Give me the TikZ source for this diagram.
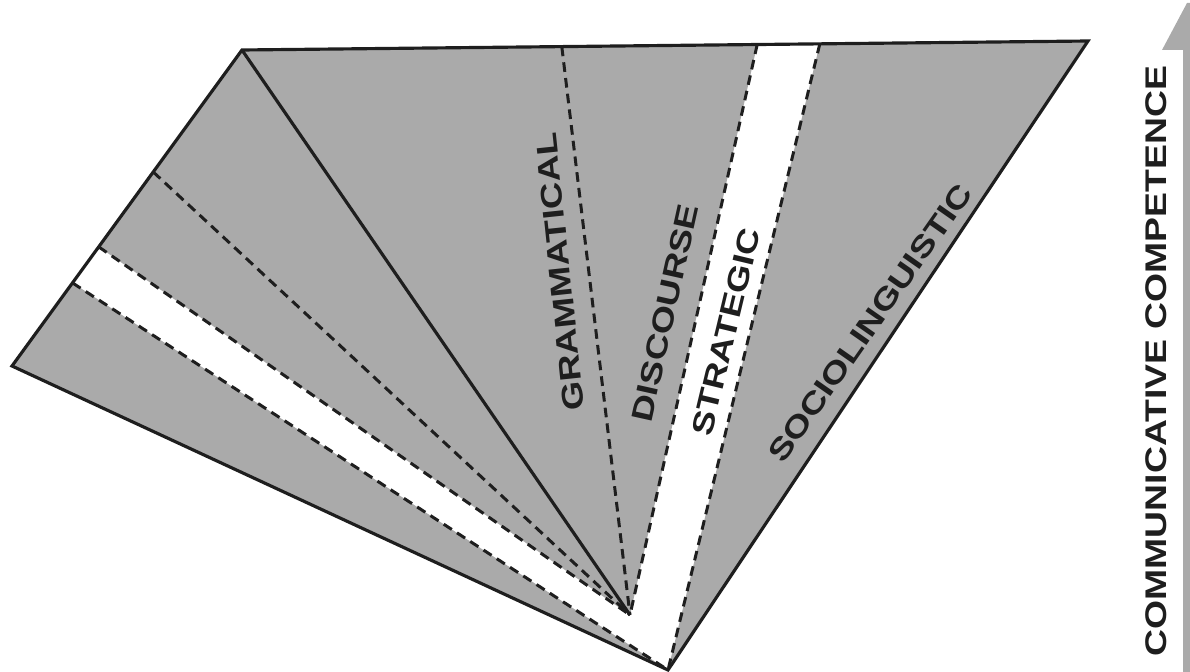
\documentclass[tikz,border=0pt]{standalone}
\usepackage{fontspec}
\setmainfont{Liberation Sans}
\newfontfamily\labfont[FakeStretch=1.25]{Liberation Sans}
\usetikzlibrary{calc}
\definecolor{shade}{RGB}{170,170,170}
\definecolor{ink}{RGB}{30,30,30}
\tikzset{
  area/.style={fill=shade,draw=none},
  rim/.style={line width=1.8pt,ink,line join=miter},
  split/.style={line width=1.7pt,ink,dash pattern=on 5.5pt off 3.5pt},
  lab/.style={font=\labfont\bfseries\fontsize{17}{20}\selectfont,text=ink,inner sep=0pt}
}
\begin{document}
\begin{tikzpicture}[x=0.02cm,y=-0.02cm]
  \useasboundingbox (0,0) rectangle (1190,672);
  % outer corners and the apex of the fan
  \coordinate (A) at (242,50);
  \coordinate (B) at (1088,41);
  \coordinate (C) at (668,670);
  \coordinate (D) at (12,366);
  \coordinate (P) at (630,615);
  % points on the left and top edges
  \coordinate (L1) at ($(A)!0.386!(D)$);
  \coordinate (W1) at ($(A)!0.623!(D)$);
  \coordinate (W2) at ($(A)!0.737!(D)$);
  \coordinate (G) at ($(A)!0.378!(B)$);
  \coordinate (S1) at ($(A)!0.609!(B)$);
  \coordinate (S2) at ($(A)!0.683!(B)$);
  % grey areas
  \fill[area] (P) -- (W1) -- (A) -- (S1) -- cycle;
  \fill[area] (C) -- (W2) -- (D) -- cycle;
  \fill[area] (C) -- (S2) -- (B) -- cycle;
  % upward arrow at the right
  \fill[area] (1183,672) -- (1183,50) -- (1162,50) -- (1187,3) -- (1190,3) -- (1190,672) -- cycle;
  % lines
  \draw[rim] (A) -- (B) -- (C) -- (D) -- cycle;
  \draw[rim] (A) -- (P);
  \foreach \e in {W1,L1,G,S1} \draw[split] (\e) -- (P);
  \foreach \e in {W2,S2} \draw[split] (\e) -- (C);
  % labels
  \node[lab,rotate=96] (gram) at (560,272) {GRAMMATICAL};
  \node[lab,rotate=77.5] (disc) at (665,313) {DISCOURSE};
  \node[lab,rotate=76.5] (strat) at (726,332) {STRATEGIC};
  \node[lab,rotate=55] (socio) at (870,323) {SOCIOLINGUISTIC};
  \node[lab,rotate=90] (comm) at (1156,361) {COMMUNICATIVE COMPETENCE};
\end{tikzpicture}
\end{document}
